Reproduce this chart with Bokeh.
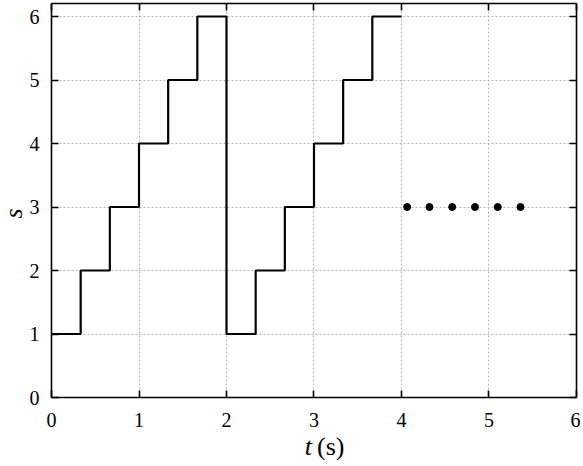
import math
from bokeh.plotting import figure
from bokeh.models import Range1d, LinearAxis, Label, FixedTicker, Grid
from bokeh.embed import file_html
from bokeh.resources import INLINE

# step data
t = [0, 1/3, 2/3, 1, 4/3, 5/3, 2, 7/3, 8/3, 3, 10/3, 11/3, 4]
s = [1, 2, 3, 4, 5, 6, 1, 2, 3, 4, 5, 6, 6]
# continuation dots
dot_t = [4.065, 4.32, 4.58, 4.84, 5.10, 5.36]
dot_s = [3, 3, 3, 3, 3, 3]
ticks = [0, 1, 2, 3, 4, 5, 6]

FONT = "Times New Roman"
XMIN, XMAX = 0, 6
YMIN, YTOP = 0, 6.2

p = figure(width=580, height=460, output_backend="svg", toolbar_location=None,
           x_range=Range1d(-0.583, 6.046), y_range=Range1d(-0.992, 6.252),
           min_border_left=0, min_border_right=0, min_border_top=0, min_border_bottom=0)
p.background_fill_color = "white"
p.border_fill_color = "white"
p.outline_line_color = None


def style_axis(a, labels=True):
    a.ticker = FixedTicker(ticks=ticks)
    a.axis_line_color = "black"
    a.axis_line_width = 1.6
    a.major_tick_in = 7
    a.major_tick_out = 0
    a.major_tick_line_width = 1.6
    a.minor_tick_line_color = None
    if labels:
        a.major_label_text_font = FONT
        a.major_label_text_font_size = "20px"
        a.major_label_text_color = "black"
    else:
        a.major_label_text_font_size = "1px"
        a.major_label_text_color = None
        a.major_label_standoff = 0


xa = p.xaxis[0]
style_axis(xa)
xa.fixed_location = YMIN
xa.bounds = (XMIN, XMAX)
xa.major_label_standoff = 15

ya = p.yaxis[0]
style_axis(ya)
ya.fixed_location = XMIN
ya.bounds = (YMIN, YTOP)
ya.major_label_standoff = 12

top = LinearAxis(fixed_location=YTOP, bounds=(XMIN, XMAX))
style_axis(top, labels=False)
p.add_layout(top, "above")
right = LinearAxis(fixed_location=XMAX, bounds=(YMIN, YTOP))
style_axis(right, labels=False)
p.add_layout(right, "right")

p.xgrid.ticker = FixedTicker(ticks=[1, 2, 3, 4, 5])
p.ygrid.ticker = FixedTicker(ticks=[1, 2, 3, 4, 5, 6])
p.grid.grid_line_color = "#b5b5b5"
p.grid.grid_line_dash = "2 2"
p.grid.grid_line_width = 1
p.xgrid.cross_bounds = (YMIN, YTOP)
p.ygrid.cross_bounds = (XMIN, XMAX)

p.step(t, s, mode="after", line_color="black", line_width=2.2)
p.scatter(dot_t, dot_s, size=7, color="black")

p.add_layout(Label(x=3, y=-0.77, text="t", text_font=FONT,
                   text_font_style="italic", text_color="black",
                   text_font_size="26px", text_align="right", text_baseline="middle",
                   x_offset=-2))
p.add_layout(Label(x=3, y=-0.77, text="(s)", text_font=FONT,
                   text_color="black",
                   text_font_size="26px", text_align="left", text_baseline="middle",
                   x_offset=3))
p.add_layout(Label(x=-0.44, y=2.9, text="s", text_font=FONT,
                   text_font_style="italic", text_color="black",
                   text_font_size="26px", text_align="center", text_baseline="middle",
                   angle=math.pi / 2))

open("out.html", "w").write(file_html(p, INLINE))
